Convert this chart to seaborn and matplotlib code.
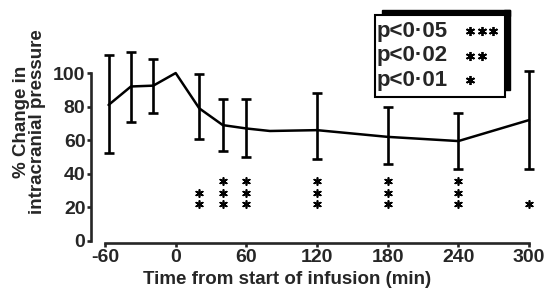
import pandas as pd
import matplotlib
matplotlib.use('Agg')
import matplotlib.pyplot as plt
import seaborn as sns
from matplotlib.patches import Rectangle
from matplotlib.lines import Line2D

# valores
times = [-57, -38, -19, 0, 20, 40, 60, 80, 120, 180, 240, 300]
pct = [81, 92, 92.5, 100, 79, 69, 67, 65.5, 66, 62, 59.5, 72]
upper = [110.7, 112.3, 108.3, None, 99.2, 84.3, 84.3, None, 88, 80, 76, 101]
lower = [52.2, 71, 76, None, 60.7, 53.8, 50.2, None, 49, 46, 43, 43]

star_times = [20, 40, 60, 120, 180, 240, 300]
star_counts = [2, 3, 3, 3, 3, 3, 1]

legend_labels = ['p<0·05', 'p<0·02', 'p<0·01']
legend_counts = [3, 2, 1]

xticks = [-60, 0, 60, 120, 180, 240, 300]
yticks = [0, 20, 40, 60, 80, 100]

sns.set_style('ticks')
plt.rcParams['font.family'] = ['Liberation Sans', 'DejaVu Sans']
plt.rcParams['font.weight'] = 'bold'
plt.rcParams['axes.unicode_minus'] = False

W, H = 545, 293
fig = plt.figure(figsize=(W / 100, H / 100), dpi=100)
ax = fig.add_axes([91 / W, 50 / H, (531.5 - 91) / W, 243 / H])

df = pd.DataFrame({'Time': times, 'Pct': pct, 'Up': upper, 'Low': lower})
sns.lineplot(data=df, x='Time', y='Pct', color='black', lw=1.8, ax=ax)

eb = df.dropna()
ax.errorbar(eb['Time'], eb['Pct'],
            yerr=[eb['Pct'] - eb['Low'], eb['Up'] - eb['Pct']],
            fmt='none', ecolor='black', elinewidth=1.9, capsize=3.8,
            capthick=1.9, clip_on=False)

# asteriscos de significancia
rows = []
for t, n in zip(star_times, star_counts):
    for i in range(n):
        rows.append({'Time': t, 'Level': 22 + i * 6.8})
stars = pd.DataFrame(rows)
sns.scatterplot(data=stars, x='Time', y='Level', marker=(6, 2, 0), s=28,
                color='black', linewidth=1.2, ax=ax, clip_on=False)

ax.set_xlim(-71.9, 302.1)
ax.set_ylim(-1.2, 143.5)
ax.set_xticks(xticks)
ax.set_yticks(yticks)
ax.spines['top'].set_visible(False)
ax.spines['right'].set_visible(False)
ax.spines['bottom'].set_bounds(-60, 300)
ax.spines['left'].set_bounds(0, 100)
for s in ['bottom', 'left']:
    ax.spines[s].set_linewidth(1.9)
ax.tick_params(width=1.9, length=3, labelsize=14, pad=1)
for lab in ax.get_xticklabels() + ax.get_yticklabels():
    lab.set_fontweight('bold')

ax.set_xlabel('Time from start of infusion (min)', fontsize=13.5,
              fontweight='bold')
ax.xaxis.set_label_coords((287 - 91) / (531.5 - 91), -0.115)
ax.set_ylabel('% Change in\nintracranial pressure', fontsize=13.5,
              fontweight='bold', linespacing=0.9, labelpad=5)

# recuadro de la leyenda con sombra
def px(x, y):
    return x / W, 1 - y / H

fig.patches.append(Rectangle(px(382, 16), (510 - 382) / W, 6 / H,
                             transform=fig.transFigure, color='black'))
fig.patches.append(Rectangle(px(504, 90), 6 / W, 80 / H,
                             transform=fig.transFigure, color='black'))
fig.patches.append(Rectangle(px(375, 97), (505 - 375) / W, 82 / H,
                             transform=fig.transFigure, facecolor='white',
                             edgecolor='black', lw=1.5))
for i, (lab, n) in enumerate(zip(legend_labels, legend_counts)):
    y = 31 + i * 24.5
    fig.text(*px(377, y), lab, fontsize=16, fontweight='bold', va='center')
    xs = [470 + k * 11.5 for k in range(n)]
    fig.lines.append(Line2D([px(x, y)[0] for x in xs],
                            [px(x, y)[1] for x in xs],
                            transform=fig.transFigure, linestyle='none',
                            marker=(6, 2, 0), markersize=6.5,
                            markeredgewidth=1.3, color='black', zorder=5))

fig.savefig('out.png', dpi=100)
